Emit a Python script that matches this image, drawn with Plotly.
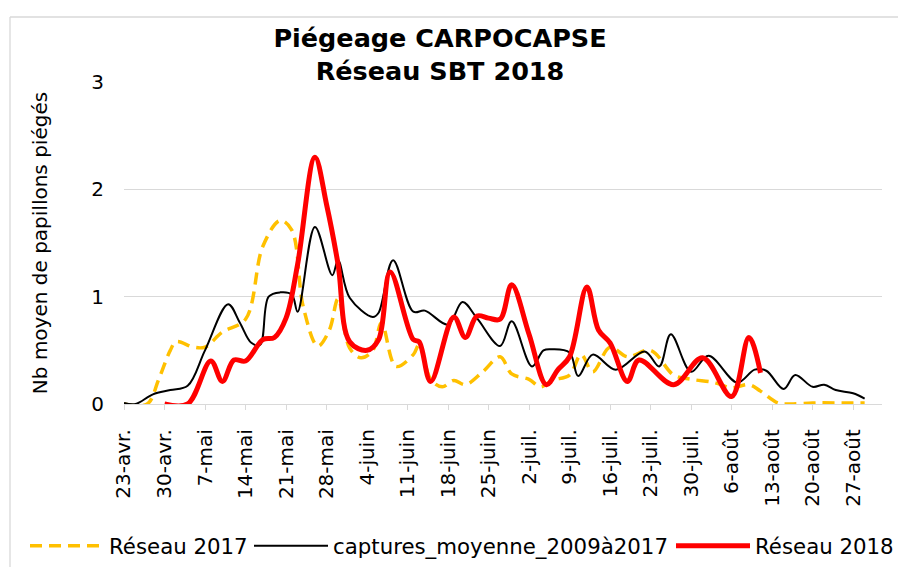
import plotly.graph_objects as go

# ---- data ----
dates_2017 = ["2018-04-23", "2018-04-27", "2018-04-29", "2018-05-01", "2018-05-02", "2018-05-05",
              "2018-05-07", "2018-05-10", "2018-05-14", "2018-05-17", "2018-05-20", "2018-05-22",
              "2018-05-24", "2018-05-26 12:00", "2018-05-28 12:00", "2018-05-30", "2018-06-01",
              "2018-06-03", "2018-06-05", "2018-06-06 12:00", "2018-06-09", "2018-06-12",
              "2018-06-13", "2018-06-15", "2018-06-17", "2018-06-19", "2018-06-21", "2018-06-24",
              "2018-06-27", "2018-06-29", "2018-07-02", "2018-07-04", "2018-07-06", "2018-07-09",
              "2018-07-11", "2018-07-13", "2018-07-16", "2018-07-19", "2018-07-23", "2018-07-27",
              "2018-07-30", "2018-08-03", "2018-08-06", "2018-08-09", "2018-08-11", "2018-08-14",
              "2018-08-16", "2018-08-20", "2018-08-24", "2018-08-29"]
reseau_2017 = [0.00, 0.00, 0.23, 0.50, 0.58, 0.53,
               0.53, 0.67, 0.79, 1.47, 1.71, 1.62,
               0.90, 0.54, 0.69, 0.98, 0.52,
               0.43, 0.50, 0.76, 0.35, 0.46,
               0.55, 0.23, 0.16, 0.22, 0.18, 0.30,
               0.44, 0.28, 0.23, 0.16, 0.22, 0.27,
               0.46, 0.30, 0.53, 0.44, 0.50, 0.27,
               0.23, 0.20, 0.15, 0.18, 0.12, 0.01,
               0.00, 0.01, 0.01, 0.01]

dates_moy = ["2018-04-23", "2018-04-25", "2018-04-28", "2018-05-01", "2018-05-04", "2018-05-07",
             "2018-05-11", "2018-05-13", "2018-05-15", "2018-05-16 12:00", "2018-05-18",
             "2018-05-20", "2018-05-22", "2018-05-23", "2018-05-26", "2018-05-29", "2018-05-30",
             "2018-06-01", "2018-06-05", "2018-06-06", "2018-06-08 12:00", "2018-06-12",
             "2018-06-14", "2018-06-18", "2018-06-20 12:00", "2018-06-23", "2018-06-27",
             "2018-06-29", "2018-07-02 12:00", "2018-07-04 12:00", "2018-07-06", "2018-07-09",
             "2018-07-10 12:00", "2018-07-13", "2018-07-17", "2018-07-22", "2018-07-24 12:00",
             "2018-07-26 12:00", "2018-07-30", "2018-08-02", "2018-08-07", "2018-08-10",
             "2018-08-12", "2018-08-15", "2018-08-17", "2018-08-20", "2018-08-22", "2018-08-24",
             "2018-08-27", "2018-08-29"]
moyenne_2009_2017 = [0.01, 0.00, 0.09, 0.13, 0.17, 0.50,
                     0.93, 0.76, 0.57, 0.55, 1.00,
                     1.04, 1.02, 0.86, 1.65, 1.20, 1.34,
                     0.99, 0.81, 0.85, 1.34, 0.86,
                     0.87, 0.74, 0.95, 0.80, 0.54,
                     0.77, 0.35, 0.50, 0.51, 0.48,
                     0.26, 0.46, 0.32, 0.49, 0.35,
                     0.65, 0.30, 0.45, 0.20, 0.32,
                     0.31, 0.14, 0.27, 0.16, 0.18, 0.13,
                     0.10, 0.05]

dates_2018 = ["2018-04-30", "2018-05-04", "2018-05-08", "2018-05-10", "2018-05-12", "2018-05-14",
              "2018-05-17", "2018-05-19", "2018-05-21", "2018-05-23", "2018-05-26", "2018-05-28",
              "2018-05-30", "2018-06-01", "2018-06-04", "2018-06-06", "2018-06-08", "2018-06-12",
              "2018-06-13", "2018-06-15", "2018-06-19", "2018-06-21", "2018-06-23", "2018-06-25",
              "2018-06-27", "2018-06-29", "2018-07-02", "2018-07-05", "2018-07-07", "2018-07-09",
              "2018-07-12", "2018-07-14", "2018-07-16", "2018-07-19", "2018-07-21", "2018-07-27",
              "2018-08-01", "2018-08-06", "2018-08-09", "2018-08-11"]
reseau_2018 = [0.00, 0.00, 0.40, 0.21, 0.41, 0.40,
               0.60, 0.62, 0.80, 1.30, 2.30, 1.86,
               1.30, 0.58, 0.50, 0.60, 1.23, 0.60,
               0.58, 0.21, 0.81, 0.62, 0.82, 0.80,
               0.79, 1.11, 0.65, 0.18, 0.32, 0.44,
               1.09, 0.69, 0.57, 0.21, 0.41, 0.18,
               0.43, 0.07, 0.62, 0.29]

tick_dates = ["2018-04-23", "2018-04-30", "2018-05-07", "2018-05-14", "2018-05-21", "2018-05-28",
              "2018-06-04", "2018-06-11", "2018-06-18", "2018-06-25", "2018-07-02", "2018-07-09",
              "2018-07-16", "2018-07-23", "2018-07-30", "2018-08-06", "2018-08-13", "2018-08-20",
              "2018-08-27"]
tick_labels = ["23-avr.", "30-avr.", "7-mai", "14-mai", "21-mai", "28-mai", "4-juin", "11-juin",
               "18-juin", "25-juin", "2-juil.", "9-juil.", "16-juil.", "23-juil.", "30-juil.",
               "6-août", "13-août", "20-août", "27-août"]

FONT = "DejaVu Sans"
GRID = "#d9d9d9"

fig = go.Figure()
fig.add_trace(go.Scatter(x=dates_2017, y=reseau_2017, mode="lines", name="Réseau 2017",
                         legend="legend",
                         line=dict(color="#FFC000", width=3.5, dash="12px,7px", shape="spline", smoothing=1)))
fig.add_trace(go.Scatter(x=dates_moy, y=moyenne_2009_2017, mode="lines",
                         name="captures_moyenne_2009à2017", legend="legend2",
                         line=dict(color="#000000", width=2, shape="spline", smoothing=1)))
fig.add_trace(go.Scatter(x=dates_2018, y=reseau_2018, mode="lines", name="Réseau 2018",
                         legend="legend3",
                         line=dict(color="#FF0000", width=5, shape="spline", smoothing=1)))

L, R, T, B = 124, 16, 82, 163
W, H = 898, 567
ph = H - T - B
pw = W - L - R


def leg(xpx):
    return dict(orientation="h", x=xpx / W, xanchor="left", xref="container",
                y=1 - 546 / H, yanchor="middle", yref="container",
                itemwidth=74,
                font=dict(family=FONT, size=21.3, color="#000000"),
                bgcolor="rgba(0,0,0,0)")


fig.update_layout(
    width=W, height=H,
    margin=dict(l=L, r=R, t=T, b=B, autoexpand=False),
    paper_bgcolor="white", plot_bgcolor="white",
    font=dict(family=FONT, size=20, color="#000000"),
    title=dict(text="Piégeage CARPOCAPSE<br>Réseau SBT 2018",
               font=dict(family=FONT, size=25.5, color="#000000", weight=700),
               x=0.49, xanchor="center", xref="container",
               y=1 - 47 / H, yanchor="top", yref="container"),
    showlegend=True,
    legend=leg(25),
    legend2=leg(249),
    legend3=leg(671),
    xaxis=dict(type="date", range=["2018-04-23", "2018-09-01"],
               tickmode="array", tickvals=tick_dates, ticktext=tick_labels,
               tickangle=-90, tickfont=dict(size=20),
               ticks="outside", ticklen=5, tickcolor=GRID, tickwidth=1.3,
               ticklabelstandoff=11, automargin=False,
               showgrid=False, zeroline=False,
               showline=True, linecolor=GRID, linewidth=1.3),
    yaxis=dict(range=[0, 3], tickvals=[0, 1, 2, 3], ticktext=["0", "1", "2", "3"],
               tickfont=dict(size=20), ticks="", ticklabelstandoff=19, automargin=False,
               showgrid=True, gridcolor=GRID, gridwidth=1.3,
               zeroline=False, showline=False,
               title=dict(text="Nb moyen de papillons piégés", font=dict(size=20), standoff=38)),
    shapes=[
        dict(type="line", xref="paper", yref="paper",
             x0=(10 - L) / pw, x1=(10 - L) / pw, y0=(T + ph - 17) / ph, y1=(T + ph - H - 5) / ph,
             line=dict(color=GRID, width=1.3)),
        dict(type="line", xref="paper", yref="paper",
             x0=(10 - L) / pw, x1=(W + 5 - L) / pw, y0=(T + ph - 17) / ph, y1=(T + ph - 17) / ph,
             line=dict(color=GRID, width=1.3)),
    ],
)

fig.write_html("out.html", config={"displayModeBar": False},
               post_script="document.body.style.margin='0';")
